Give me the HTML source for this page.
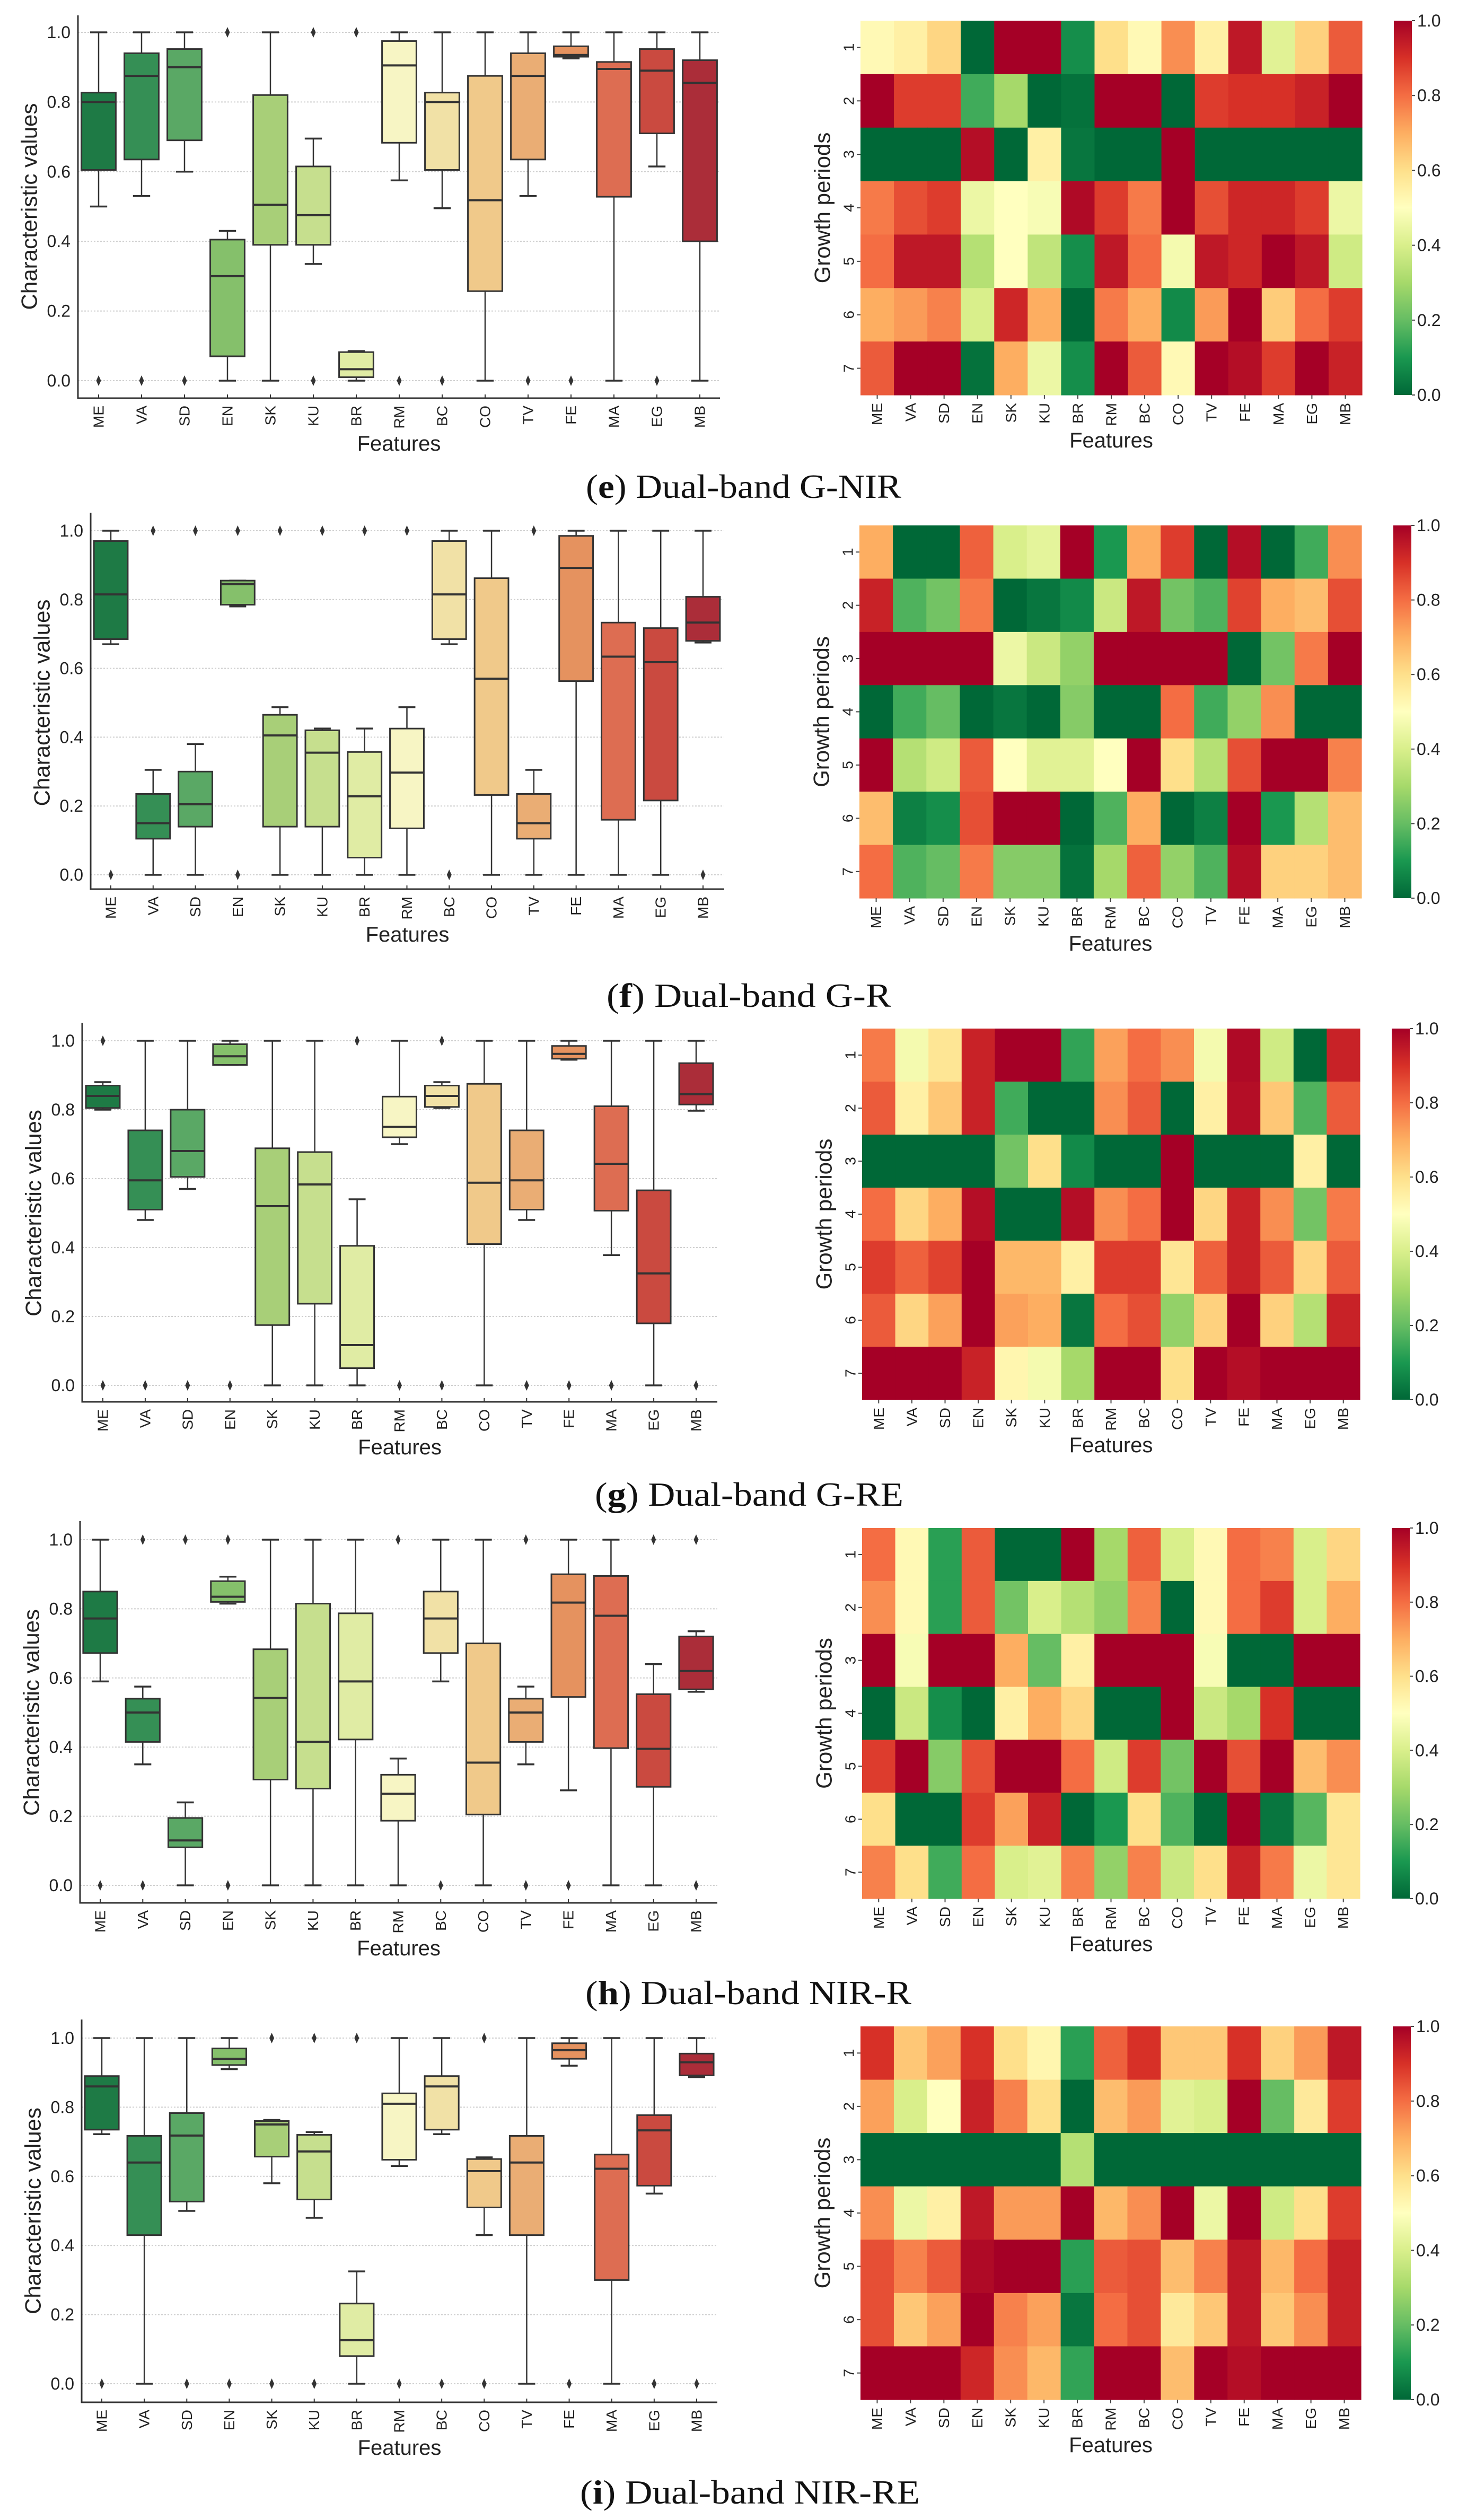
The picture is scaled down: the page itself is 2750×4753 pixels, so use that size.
<!DOCTYPE html>
<html><head><meta charset="utf-8"><title>Dual-band features</title>
<style>
html,body{margin:0;padding:0;background:#fff;}
svg{display:block;}
</style></head>
<body>
<svg id="fig" xmlns="http://www.w3.org/2000/svg" width="2750" height="4753" viewBox="0 0 2750 4753">
<rect x="0" y="0" width="2750" height="4753" fill="#ffffff"/>
</svg>
<script>
const features = ["ME","VA","SD","EN","SK","KU","BR","RM","BC","CO","TV","FE","MA","EG","MB"];
const periods = ["1","2","3","4","5","6","7"];
const yTicks = [0,0.2,0.4,0.6,0.8,1.0];
const yTickLabels = ["0.0","0.2","0.4","0.6","0.8","1.0"];
const cbTicks = [0,0.2,0.4,0.6,0.8,1.0];
const panelIds = ["e","f","g","h","i"];
const panelTitles = ["Dual-band G-NIR","Dual-band G-R","Dual-band G-RE","Dual-band NIR-R","Dual-band NIR-RE"];

// boxplot stats: [lowWhisker, q1, median, q3, highWhisker]
const boxE = [[0.5,0.605,0.8,0.827,1],[0.53,0.635,0.875,0.94,1],[0.6,0.69,0.9,0.952,1],[0,0.07,0.3,0.405,0.43],[0,0.39,0.505,0.82,1],[0.335,0.39,0.475,0.615,0.695],[0,0.01,0.033,0.082,0.085],[0.575,0.683,0.905,0.975,1],[0.495,0.605,0.8,0.827,1],[0,0.257,0.518,0.875,1],[0.53,0.635,0.875,0.94,1],[0.925,0.93,0.935,0.96,1],[0,0.528,0.895,0.915,1],[0.615,0.71,0.89,0.952,1],[0,0.4,0.855,0.92,1]];
const outE = [[0],[0],[0],[1],[],[0,1],[1],[0],[0],[],[0],[0],[],[0],[]];
const boxF = [[0.67,0.685,0.815,0.97,1],[0,0.105,0.15,0.235,0.305],[0,0.14,0.205,0.3,0.38],[0.78,0.785,0.845,0.855,0.855],[0,0.14,0.405,0.465,0.487],[0,0.14,0.355,0.42,0.425],[0,0.05,0.228,0.357,0.425],[0,0.135,0.297,0.425,0.487],[0.67,0.685,0.815,0.97,1],[0,0.232,0.57,0.862,1],[0,0.105,0.15,0.235,0.305],[0,0.563,0.892,0.985,1],[0,0.16,0.634,0.733,1],[0,0.216,0.618,0.717,1],[0.675,0.68,0.733,0.808,1]];
const outF = [[0],[1],[1],[0,1],[1],[1],[1],[1],[0],[],[1],[],[],[],[0]];
const boxG = [[0.8,0.805,0.84,0.87,0.88],[0.48,0.51,0.595,0.74,1],[0.57,0.605,0.68,0.8,1],[0.93,0.93,0.955,0.99,1],[0,0.175,0.52,0.688,1],[0,0.237,0.583,0.677,1],[0,0.05,0.117,0.405,0.54],[0.7,0.72,0.75,0.838,1],[0.805,0.808,0.84,0.87,0.88],[0,0.41,0.588,0.875,1],[0.48,0.51,0.595,0.74,1],[0.945,0.948,0.962,0.985,1],[0.378,0.507,0.643,0.81,1],[0,0.18,0.325,0.566,1],[0.797,0.815,0.845,0.935,1]];
const outG = [[0,1],[0],[0],[0],[],[],[1],[0],[0,1],[],[0],[0],[0],[],[0]];
const boxH = [[0.59,0.672,0.772,0.85,1],[0.35,0.415,0.5,0.54,0.575],[0,0.11,0.13,0.195,0.24],[0.815,0.82,0.835,0.88,0.893],[0,0.306,0.542,0.683,1],[0,0.28,0.415,0.815,1],[0,0.422,0.59,0.787,1],[0,0.187,0.265,0.32,0.367],[0.59,0.672,0.772,0.85,1],[0,0.205,0.355,0.7,1],[0.35,0.415,0.5,0.54,0.575],[0.275,0.545,0.818,0.9,1],[0,0.397,0.78,0.895,1],[0,0.285,0.395,0.553,0.64],[0.56,0.567,0.62,0.72,0.735]];
const outH = [[0],[0,1],[1],[0,1],[],[],[],[1],[0],[],[0,1],[0],[],[1],[0,1]];
const boxI = [[0.722,0.735,0.86,0.89,1],[0,0.43,0.64,0.717,1],[0.5,0.527,0.718,0.783,1],[0.91,0.922,0.94,0.97,1],[0.58,0.657,0.75,0.76,0.763],[0.48,0.533,0.672,0.72,0.728],[0,0.08,0.126,0.232,0.325],[0.63,0.648,0.81,0.84,1],[0.722,0.735,0.86,0.89,1],[0.43,0.51,0.615,0.65,0.655],[0,0.43,0.64,0.717,1],[0.92,0.94,0.965,0.985,1],[0,0.3,0.622,0.663,1],[0.55,0.573,0.733,0.777,1],[0.887,0.892,0.93,0.955,1]];
const outI = [[0],[],[0],[0],[0,1],[0,1],[1],[0],[0],[0,1],[],[0],[],[0],[0]];

// heatmaps: rows = growth periods 1..7, cols = features
const heatE = [
[0.52,0.55,0.62,0,1,1,0.08,0.6,0.52,0.75,0.55,0.95,0.42,0.63,0.83],
[1,0.88,0.88,0.15,0.3,0,0.02,1,1,0,0.88,0.9,0.9,0.93,1],
[0,0,0,0.97,0,0.55,0.03,0,0,1,0,0,0,0,0],
[0.78,0.85,0.88,0.45,0.5,0.48,0.98,0.88,0.78,1,0.85,0.92,0.92,0.88,0.45],
[0.8,0.95,0.95,0.33,0.5,0.35,0.08,0.95,0.8,0.47,0.95,0.92,1,0.95,0.38],
[0.7,0.73,0.77,0.4,0.92,0.7,0,0.78,0.7,0.07,0.73,1,0.64,0.8,0.88],
[0.83,1,1,0.02,0.7,0.45,0.08,1,0.83,0.52,1,0.97,0.88,1,0.93]];
const heatF = [
[0.7,0,0,0.82,0.4,0.43,1,0.1,0.7,0.88,0,0.97,0,0.15,0.75],
[0.93,0.17,0.22,0.78,0,0.03,0.07,0.37,0.95,0.22,0.17,0.87,0.7,0.67,0.85],
[1,1,1,1,0.45,0.37,0.27,1,1,1,1,0,0.22,0.78,1],
[0,0.15,0.2,0,0.03,0,0.25,0,0,0.8,0.15,0.27,0.75,0,0],
[1,0.33,0.38,0.83,0.5,0.42,0.42,0.5,1,0.6,0.33,0.85,1,1,0.77],
[0.67,0.05,0.08,0.85,1,1,0,0.17,0.7,0,0.05,1,0.1,0.33,0.67],
[0.8,0.17,0.2,0.78,0.25,0.25,0.02,0.3,0.82,0.27,0.17,0.97,0.63,0.63,0.67]];
const heatG = [
[0.78,0.47,0.58,0.93,1,1,0.13,0.72,0.8,0.75,0.47,0.98,0.38,0,0.93],
[0.83,0.55,0.65,0.93,0.15,0,0,0.75,0.83,0,0.55,0.97,0.65,0.17,0.83],
[0,0,0,0,0.22,0.6,0.07,0,0,1,0,0,0,0.55,0],
[0.8,0.62,0.7,0.97,0,0,0.97,0.75,0.8,1,0.62,0.93,0.75,0.22,0.78],
[0.88,0.82,0.87,1,0.68,0.68,0.55,0.88,0.88,0.58,0.82,0.93,0.83,0.62,0.83],
[0.83,0.62,0.72,1,0.72,0.7,0.03,0.8,0.85,0.27,0.63,1,0.63,0.33,0.93],
[1,1,1,0.93,0.53,0.47,0.3,1,1,0.6,1,0.97,1,1,1]];
const heatH = [
[0.8,0.52,0.12,0.83,0,0,1,0.3,0.82,0.4,0.52,0.8,0.77,0.4,0.62],
[0.75,0.52,0.12,0.83,0.22,0.4,0.33,0.27,0.77,0,0.52,0.8,0.88,0.4,0.7],
[1,0.48,1,1,0.7,0.2,0.55,1,1,1,0.48,0,0,1,1],
[0,0.37,0.08,0,0.55,0.7,0.62,0,0,1,0.37,0.3,0.9,0,0],
[0.88,1,0.25,0.85,1,1,0.8,0.38,0.88,0.22,1,0.85,1,0.67,0.75],
[0.6,0,0,0.88,0.72,0.93,0,0.1,0.6,0.17,0,1,0.03,0.18,0.58],
[0.77,0.6,0.15,0.8,0.4,0.42,0.77,0.27,0.77,0.37,0.6,0.93,0.78,0.45,0.58]];
const heatI = [
[0.9,0.65,0.72,0.9,0.6,0.53,0.12,0.82,0.9,0.65,0.65,0.9,0.63,0.73,0.95],
[0.72,0.4,0.5,0.93,0.77,0.6,0,0.67,0.73,0.42,0.4,1,0.2,0.57,0.88],
[0,0,0,0,0,0,0.33,0,0,0,0,0,0,0,0],
[0.75,0.45,0.55,0.95,0.73,0.73,1,0.68,0.75,1,0.45,1,0.38,0.6,0.88],
[0.85,0.77,0.83,0.98,1,1,0.12,0.83,0.85,0.67,0.77,0.95,0.68,0.8,0.93],
[0.85,0.65,0.72,1,0.77,0.72,0.03,0.8,0.85,0.57,0.65,0.95,0.65,0.75,0.93],
[1,1,1,0.92,0.75,0.68,0.13,1,1,0.67,1,0.97,1,1,1]];

const boxColors = ["#1e7a45","#358f55","#5aa865","#85c06b","#a8cf78","#c6df8e","#e0eca4","#f7f5c4","#f1e1a6","#f0c98a","#eaad74","#e5925f","#dd6d52","#ca4a40","#ab2d39"];

const allBoxes=[boxE,boxF,boxG,boxH,boxI];
const allOut=[outE,outF,outG,outH,outI];
const allHeat=[heatE,heatF,heatG,heatH,heatI];

const layouts = [
 {box:{L:147,R:1358,y1:61,y0:718,bot:751,top:29,x0:186,x14:1320},hm:{L:1623,R:2569,T:39,B:745},cap:{y:917,x1:1105,x2:1700}},
 {box:{L:171,R:1366,y1:1001,y0:1650,bot:1677,top:967,x0:209,x14:1326},hm:{L:1621,R:2568,T:991,B:1694},cap:{y:1877,x1:1144,x2:1681}},
 {box:{L:155,R:1353,y1:1963,y0:2613,bot:2644,top:1929,x0:194,x14:1313},hm:{L:1626,R:2565,T:1940,B:2640},cap:{y:2818,x1:1122,x2:1704}},
 {box:{L:151,R:1353,y1:2904,y0:3556,bot:3589,top:2869,x0:189,x14:1313},hm:{L:1626,R:2565,T:2882,B:3581},cap:{y:3758,x1:1104,x2:1719}},
 {box:{L:154,R:1353,y1:3844,y0:4496,bot:4531,top:3809,x0:192,x14:1314},hm:{L:1623,R:2567,T:3822,B:4526},cap:{y:4700,x1:1094,x2:1735}}
];

const NS="http://www.w3.org/2000/svg";
const svg=document.getElementById('fig');
function mk(tag,attrs,parent){const e=document.createElementNS(NS,tag);for(const k in attrs)e.setAttribute(k,attrs[k]);(parent||svg).appendChild(e);return e;}

// RdYlGn_r colormap
const stops=["#006837","#1a9850","#66bd63","#a6d96a","#d9ef8b","#ffffbf","#fee08b","#fdae61","#f46d43","#d73027","#a50026"];
function hex(h){return [parseInt(h.substr(1,2),16),parseInt(h.substr(3,2),16),parseInt(h.substr(5,2),16)];}
function cmap(v){v=Math.max(0,Math.min(1,v));const p=v*10;const i=Math.min(9,Math.floor(p));const t=p-i;const a=hex(stops[i]),b=hex(stops[i+1]);return "rgb("+a.map((c,k)=>Math.round(c+(b[k]-c)*t)).join(",")+")";}

const SANS='"Liberation Sans", "DejaVu Sans", sans-serif';
const NARROW='"Liberation Sans Narrow", "Liberation Sans", sans-serif';

// gradient for colorbar
const defs=mk('defs',{});
const grad=mk('linearGradient',{id:'cbgrad',x1:'0',y1:'1',x2:'0',y2:'0'},defs);
for(let k=0;k<=20;k++){mk('stop',{offset:(k/20),'stop-color':cmap(k/20)},grad);}

panelIds.forEach((pid,pi)=>{
  const lay=layouts[pi], B=lay.box, H=lay.hm;
  const boxes=allBoxes[pi], outs=allOut[pi], heat=allHeat[pi];
  const g=mk('g',{});
  
  

  // ---- boxplot ----
  const bp=mk('g',{},g);
  
  
  const yS=v=>B.y0+(B.y1-B.y0)*v;
  const xS=i=>B.x0+(B.x14-B.x0)*i/14;
  const step=(B.x14-B.x0)/14, bw=step*0.8;
  yTicks.forEach((t,k)=>{
    const gl=mk('line',{x1:B.L,x2:B.R,y1:yS(t),y2:yS(t),stroke:'#cfcfcf','stroke-width':2,'stroke-dasharray':'3 3'},bp);
    
    
    const tl=mk('text',{x:B.L-14,y:yS(t),'text-anchor':'end','dominant-baseline':'central','font-family':NARROW,'font-size':32,fill:'#222'},bp);
    tl.textContent=yTickLabels[k];
    
    
  });
  boxes.forEach((s,i)=>{
    const x=xS(i);
    const bg=mk('g',{},bp);
    
    
    mk('line',{x1:x,x2:x,y1:yS(s[0]),y2:yS(s[1]),stroke:'#333','stroke-width':2.5},bg);
    mk('line',{x1:x,x2:x,y1:yS(s[3]),y2:yS(s[4]),stroke:'#333','stroke-width':2.5},bg);
    mk('line',{x1:x-bw/4,x2:x+bw/4,y1:yS(s[0]),y2:yS(s[0]),stroke:'#333','stroke-width':3.5},bg);
    mk('line',{x1:x-bw/4,x2:x+bw/4,y1:yS(s[4]),y2:yS(s[4]),stroke:'#333','stroke-width':3.5},bg);
    mk('rect',{x:x-bw/2,y:yS(s[3]),width:bw,height:Math.max(1,yS(s[1])-yS(s[3])),fill:boxColors[i],stroke:'#333','stroke-width':3},bg);
    mk('line',{x1:x-bw/2,x2:x+bw/2,y1:yS(s[2]),y2:yS(s[2]),stroke:'#333','stroke-width':4},bg);
    outs[i].forEach(o=>{
      const y=yS(o);
      const d=mk('path',{d:`M${x},${y-10}L${x+4.5},${y}L${x},${y+10}L${x-4.5},${y}Z`,fill:'#333'},bg);
      
      
    });
    mk('line',{x1:x,x2:x,y1:B.bot,y2:B.bot-7,stroke:'#333','stroke-width':2},bp);
    const fl=mk('text',{transform:`translate(${x},${B.bot+14}) rotate(-90)`,'text-anchor':'end','dominant-baseline':'central','font-family':SANS,'font-size':28,fill:'#222'},bp);
    fl.textContent=features[i];
    
    
  });
  const ax=mk('path',{d:`M${B.L},${B.top}L${B.L},${B.bot}L${B.R},${B.bot}`,fill:'none',stroke:'#333','stroke-width':3},bp);
  
  
  const xt=mk('text',{x:(B.L+B.R)/2,y:B.bot+86,'text-anchor':'middle','dominant-baseline':'central','font-family':NARROW,'font-size':40,fill:'#222'},bp);
  xt.textContent='Features';
  
  
  const yt=mk('text',{transform:`translate(${B.L-92},${(B.y0+B.y1)/2}) rotate(-90)`,'text-anchor':'middle','dominant-baseline':'central','font-family':SANS,'font-size':42,fill:'#222'},bp);
  yt.textContent='Characteristic values';
  
  

  // ---- heatmap ----
  const hm=mk('g',{},g);
  
  
  const cw=(H.R-H.L)/features.length, rh=(H.B-H.T)/periods.length;
  heat.forEach((row,r)=>{
    row.forEach((v,c)=>{
      const cell=mk('rect',{x:H.L+c*cw,y:H.T+r*rh,width:cw+0.6,height:rh+0.6,fill:cmap(v)},hm);
      
      
    });
  });
  features.forEach((f,c)=>{
    const x=H.L+(c+0.5)*cw;
    mk('line',{x1:x,x2:x,y1:H.B,y2:H.B+7,stroke:'#444','stroke-width':2},hm);
    const t=mk('text',{transform:`translate(${x},${H.B+15}) rotate(-90)`,'text-anchor':'end','dominant-baseline':'central','font-family':SANS,'font-size':28,fill:'#222'},hm);
    t.textContent=f;
    
    
  });
  periods.forEach((p,r)=>{
    const y=H.T+(r+0.5)*rh;
    mk('line',{x1:H.L,x2:H.L-7,y1:y,y2:y,stroke:'#444','stroke-width':2},hm);
    const t=mk('text',{transform:`translate(${H.L-22},${y}) rotate(-90)`,'text-anchor':'middle','dominant-baseline':'central','font-family':SANS,'font-size':28,fill:'#222'},hm);
    t.textContent=p;
    
    
  });
  const hx=mk('text',{x:(H.L+H.R)/2,y:H.B+86,'text-anchor':'middle','dominant-baseline':'central','font-family':NARROW,'font-size':40,fill:'#222'},hm);
  hx.textContent='Features';
  
  
  const hy=mk('text',{transform:`translate(${H.L-72},${(H.T+H.B)/2}) rotate(-90)`,'text-anchor':'middle','dominant-baseline':'central','font-family':SANS,'font-size':42,fill:'#222'},hm);
  hy.textContent='Growth periods';
  
  
  // colorbar
  const cbL=H.R+60, cbW=34;
  const cb=mk('rect',{x:cbL,y:H.T,width:cbW,height:H.B-H.T,fill:'url(#cbgrad)'},hm);
  
  
  cbTicks.forEach(t=>{
    const y=H.B-(H.B-H.T)*t;
    mk('line',{x1:cbL+cbW,x2:cbL+cbW+6,y1:y,y2:y,stroke:'#444','stroke-width':2},hm);
    const tl=mk('text',{x:cbL+cbW+10,y:y,'dominant-baseline':'central','font-family':NARROW,'font-size':32,fill:'#222'},hm);
    tl.textContent=t.toFixed(1);
    
    
  });

  // caption
  const C=lay.cap;
  const cap=mk('text',{x:C.x1,y:C.y,'dominant-baseline':'central','font-family':'"Liberation Serif", serif','font-size':64,fill:'#111',textLength:C.x2-C.x1,lengthAdjust:'spacingAndGlyphs'},g);
  
  
  const s1=mk('tspan',{},cap); s1.textContent='(';
  const s2=mk('tspan',{'font-weight':'bold'},cap); s2.textContent=pid;
  const s3=mk('tspan',{},cap); s3.textContent=') '+panelTitles[pi];
});
</script>
</body></html>
